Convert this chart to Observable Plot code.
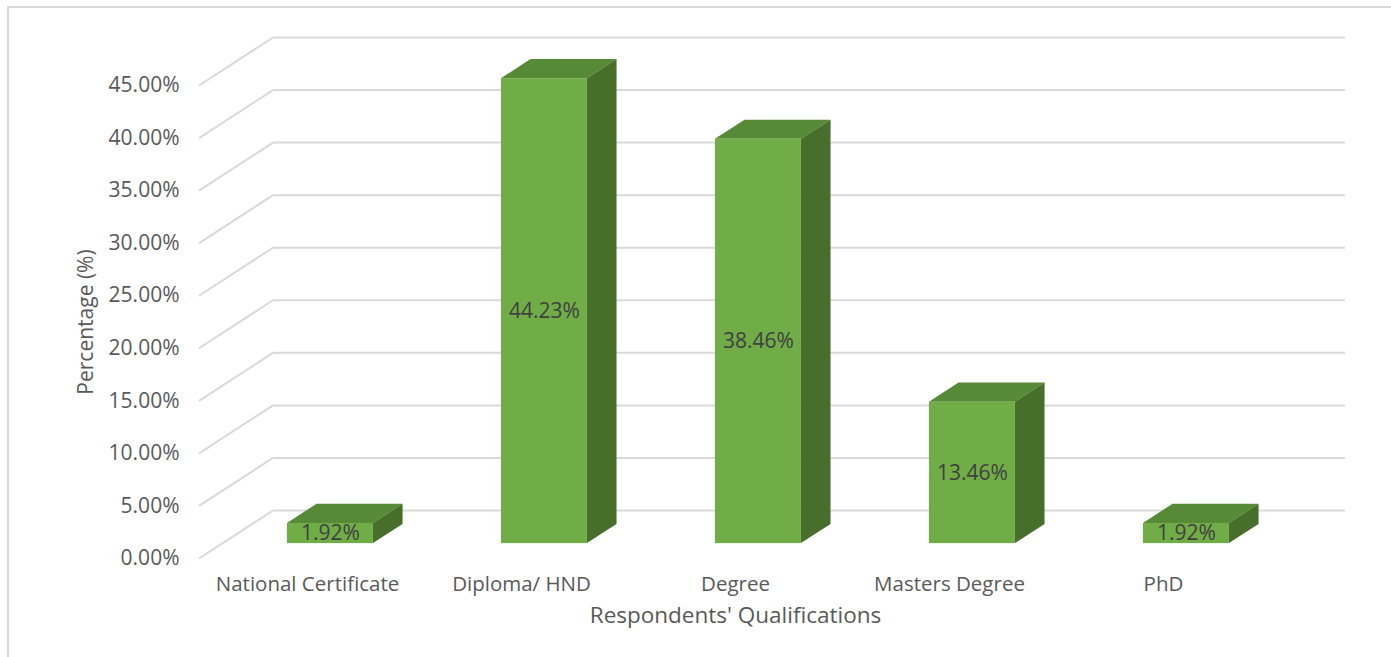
<!DOCTYPE html>
<html>
<head>
<meta charset="utf-8">
<script src="https://cdn.jsdelivr.net/npm/d3@7"></script>
<script src="https://cdn.jsdelivr.net/npm/@observablehq/plot@0.6"></script>
<style>
  html, body { margin: 0; padding: 0; background: #fff; }
  #chart { position: relative; width: 1391px; height: 657px; overflow: hidden; }
  #chart .border { position: absolute; left: 7px; top: 6px; right: -10px; bottom: -10px; border: 2px solid #d9d9d9; }
  #chart svg { position: absolute; left: 0; top: 0; }
</style>
</head>
<body>
<div id="chart"><div class="border"></div></div>
<script>
// Share of respondents by highest qualification
const categories = ["National Certificate", "Diploma/ HND", "Degree", "Masters Degree", "PhD"];
const values = [1.92, 44.23, 38.46, 13.46, 1.92];
const yTicks = [0, 5, 10, 15, 20, 25, 30, 35, 40, 45];

const data = categories.map((category, i) => ({category, value: values[i]}));

// Oblique "3-D" projection: offset of the back wall from the front plane,
// and where each column sits within that depth (0 = front, 1 = back).
const wallDX = 74, wallDY = -48;
const barFront = 0.31, barBack = 0.71;
const frontDX = wallDX * barFront, frontDY = wallDY * barFront;
const depthDX = wallDX * (barBack - barFront), depthDY = wallDY * (barBack - barFront);

const gridColor = "#d9d9d9";
const faceColor = "#70ad47", topColor = "#578a37", sideColor = "#486e2b";
const pct = d => d.toFixed(2) + "%";

// Side-wall diagonals: each gridline runs from the front plane back to the wall
function wallDiagonals(index, scales, values, dimensions, context, next) {
  const g = next(index, scales, values, dimensions, context);
  for (const line of g.querySelectorAll("line")) {
    const y = +line.getAttribute("y1");
    line.setAttribute("x1", dimensions.marginLeft);
    line.setAttribute("x2", dimensions.marginLeft + wallDX);
    line.setAttribute("y1", y);
    line.setAttribute("y2", y + wallDY);
  }
  return g;
}

// Columns: the front face comes from the bar mark; top and side faces are
// extruded from each rendered rectangle.
function extrude(index, scales, values, dimensions, context, next) {
  const front = next(index, scales, values, dimensions, context);
  const g = d3.create("svg:g").attr("transform", `translate(${frontDX},${frontDY})`);
  for (const r of front.querySelectorAll("rect")) {
    const x = +r.getAttribute("x"), y = +r.getAttribute("y");
    const w = +r.getAttribute("width"), h = +r.getAttribute("height");
    const x1 = x + w, yb = y + h;
    g.append("polygon")
      .attr("points", [[x, y], [x1, y], [x1 + depthDX, y + depthDY], [x + depthDX, y + depthDY]].join(" "))
      .attr("fill", topColor);
    g.append("polygon")
      .attr("points", [[x1, y], [x1 + depthDX, y + depthDY], [x1 + depthDX, yb + depthDY], [x1, yb]].join(" "))
      .attr("fill", sideColor);
  }
  g.node().appendChild(front);
  return g.node();
}

const chart = Plot.plot({
  width: 1391,
  height: 657,
  marginLeft: 199,
  marginRight: 120,
  marginTop: 85,
  marginBottom: 99,
  style: {fontFamily: "'Open Sans', sans-serif", fontSize: "20.5px", color: "#595959", background: "transparent"},
  x: {domain: categories, padding: 0, axis: null},
  y: {domain: [0, 45], axis: null},
  marks: [
    Plot.ruleY(yTicks, {stroke: gridColor, strokeWidth: 2, dx: wallDX, dy: wallDY}),
    Plot.ruleY(yTicks, {stroke: gridColor, strokeWidth: 2, render: wallDiagonals}),
    Plot.barY(data, {x: "category", y: "value", fill: faceColor, insetLeft: 64, insetRight: 64, render: extrude}),
    Plot.text(data, {x: "category", y: d => d.value / 2, text: d => pct(d.value), dx: frontDX, dy: frontDY, fill: "#404040", fontSize: 21}),
    Plot.axisY(yTicks, {tickSize: 0, tickPadding: 20, tickFormat: pct, label: null, fontSize: 21}),
    Plot.axisX({tickSize: 0, tickPadding: 18, label: null, fontSize: 20.5}),
    Plot.text(["Respondents' Qualifications"], {frameAnchor: "bottom", dy: 64, fill: "#595959", fontSize: 22.5}),
    Plot.text(["Percentage (%)"], {frameAnchor: "left", textAnchor: "middle", dx: -113, rotate: -90, fill: "#595959", fontSize: 21})
  ]
});

document.getElementById("chart").appendChild(chart);
</script>
</body>
</html>
